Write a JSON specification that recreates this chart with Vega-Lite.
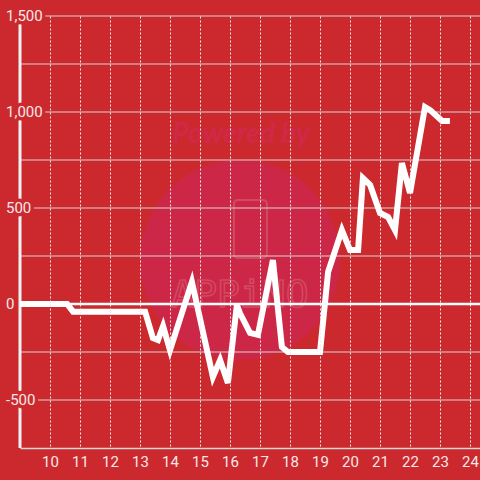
{
  "$schema": "https://vega.github.io/schema/vega-lite/v6.json",
  "width": 460,
  "height": 432,
  "autosize": {"type": "none"},
  "padding": {"left": 20, "top": 16, "right": 0, "bottom": 32},
  "background": "#cc292e",
  "config": {"view": {"stroke": null}, "font": "Roboto"},
  "resolve": {"axis": {"x": "independent", "y": "independent"}},
  "layer": [
    {
      "data": {"values": [{}]},
      "mark": {"type": "point", "filled": true, "color": "#cd2747", "opacity": 1, "size": 40000},
      "encoding": {
        "x": {"datum": 16.33, "type": "quantitative", "axis": null},
        "y": {"datum": 229, "type": "quantitative", "axis": null}
      }
    },
    {
      "data": {"values": [{}]},
      "mark": {"type": "text", "text": "Powered by", "font": "Lato", "fontSize": 28, "fontWeight": "bold", "fontStyle": "italic", "color": "#d02848", "align": "center", "baseline": "alphabetic"},
      "encoding": {
        "x": {"datum": 16.37, "type": "quantitative", "axis": null},
        "y": {"datum": 838, "type": "quantitative", "axis": null}
      }
    },
    {
      "data": {"values": [{}]},
      "mark": {"type": "rect", "fill": null, "filled": false, "stroke": "#d24a62", "strokeWidth": 2, "cornerRadius": 4},
      "encoding": {
        "x": {"datum": 16.13, "type": "quantitative", "axis": null},
        "x2": {"datum": 17.23},
        "y": {"datum": 542, "type": "quantitative", "axis": null},
        "y2": {"datum": 240}
      }
    },
    {
      "data": {"values": [{}]},
      "mark": {"type": "text", "text": "APPiNO", "font": "DejaVu Sans Mono", "fontSize": 38, "fill": null, "stroke": "#d24a62", "strokeWidth": 1.5, "align": "center", "baseline": "alphabetic"},
      "encoding": {
        "x": {"datum": 16.33, "type": "quantitative", "axis": null},
        "y": {"datum": -15, "type": "quantitative", "axis": null}
      }
    },
    {
      "data": {"values": [{"g": -500}, {"g": -250}, {"g": 250}, {"g": 500}, {"g": 750}, {"g": 1000}, {"g": 1250}, {"g": 1500}]},
      "mark": {"type": "rule", "color": "#d4d4d4", "strokeWidth": 1},
      "encoding": {"y": {"field": "g", "type": "quantitative", "axis": null}}
    },
    {
      "data": {"values": [{}]},
      "mark": {"type": "rule", "color": "#f2f2f2", "strokeWidth": 3},
      "encoding": {"x": {"datum": 9, "type": "quantitative", "axis": null}}
    },
    {
      "data": {"values": [{}]},
      "mark": {"type": "rule", "color": "#ffffff", "strokeWidth": 2.5},
      "encoding": {"y": {"datum": 0, "type": "quantitative", "axis": null}}
    },
    {
      "data": {
        "values": [
          {"hour": 9.0, "value": 0},
          {"hour": 10.57, "value": 0},
          {"hour": 10.77, "value": -40},
          {"hour": 13.17, "value": -40},
          {"hour": 13.43, "value": -177},
          {"hour": 13.6, "value": -188},
          {"hour": 13.77, "value": -115},
          {"hour": 14.0, "value": -240},
          {"hour": 14.73, "value": 115},
          {"hour": 15.43, "value": -380},
          {"hour": 15.67, "value": -292},
          {"hour": 15.93, "value": -411},
          {"hour": 16.23, "value": -5},
          {"hour": 16.33, "value": -47},
          {"hour": 16.67, "value": -151},
          {"hour": 16.93, "value": -161},
          {"hour": 17.43, "value": 229},
          {"hour": 17.73, "value": -224},
          {"hour": 17.93, "value": -250},
          {"hour": 19.0, "value": -250},
          {"hour": 19.27, "value": 167},
          {"hour": 19.73, "value": 385},
          {"hour": 20.0, "value": 281},
          {"hour": 20.27, "value": 281},
          {"hour": 20.43, "value": 656},
          {"hour": 20.67, "value": 620},
          {"hour": 21.0, "value": 474},
          {"hour": 21.27, "value": 453},
          {"hour": 21.5, "value": 385},
          {"hour": 21.73, "value": 734},
          {"hour": 22.0, "value": 578},
          {"hour": 22.5, "value": 1026},
          {"hour": 22.67, "value": 1010},
          {"hour": 23.07, "value": 953},
          {"hour": 23.33, "value": 953}
        ]
      },
      "mark": {"type": "line", "color": "#ffffff", "strokeWidth": 6, "strokeJoin": "miter"},
      "encoding": {
        "x": {
          "field": "hour", "type": "quantitative",
          "scale": {"domain": [9, 24.333], "nice": false, "zero": false},
          "axis": {
            "title": null,
            "values": [10, 11, 12, 13, 14, 15, 16, 17, 18, 19, 20, 21, 22, 23, 24],
            "zindex": 1,
            "grid": true, "gridDash": [2, 2], "gridColor": "#ececec", "gridWidth": 1,
            "ticks": false,
            "domainColor": "#d8d8d8", "domainWidth": 1.5,
            "labelColor": "#f5e8e8", "labelFontSize": 15, "labelFont": "Roboto",
            "labelPadding": 6, "labelFlush": false, "labelOverlap": false
          }
        },
        "y": {
          "field": "value", "type": "quantitative",
          "scale": {"domain": [-750, 1500], "nice": false},
          "axis": null
        }
      }
    },
    {
      "data": {
        "values": [
          {"v": 1500, "t": "1,500"},
          {"v": 1000, "t": "1,000"},
          {"v": 500, "t": "500"},
          {"v": 0, "t": "0"},
          {"v": -500, "t": "-500"}
        ]
      },
      "layer": [
        {
          "mark": {"type": "text", "align": "left", "baseline": "middle", "dx": -14, "fontSize": 15, "font": "Roboto", "fill": "#cc292e", "stroke": "#cc292e", "strokeWidth": 7, "strokeJoin": "round"},
          "encoding": {
            "x": {"datum": 9, "type": "quantitative", "axis": null},
            "y": {"field": "v", "type": "quantitative", "axis": null},
            "text": {"field": "t"}
          }
        },
        {
          "mark": {"type": "text", "align": "left", "baseline": "middle", "dx": -14, "fontSize": 15, "font": "Roboto", "fill": "#f5e8e8"},
          "encoding": {
            "x": {"datum": 9, "type": "quantitative", "axis": null},
            "y": {"field": "v", "type": "quantitative", "axis": null},
            "text": {"field": "t"}
          }
        }
      ]
    }
  ]
}
